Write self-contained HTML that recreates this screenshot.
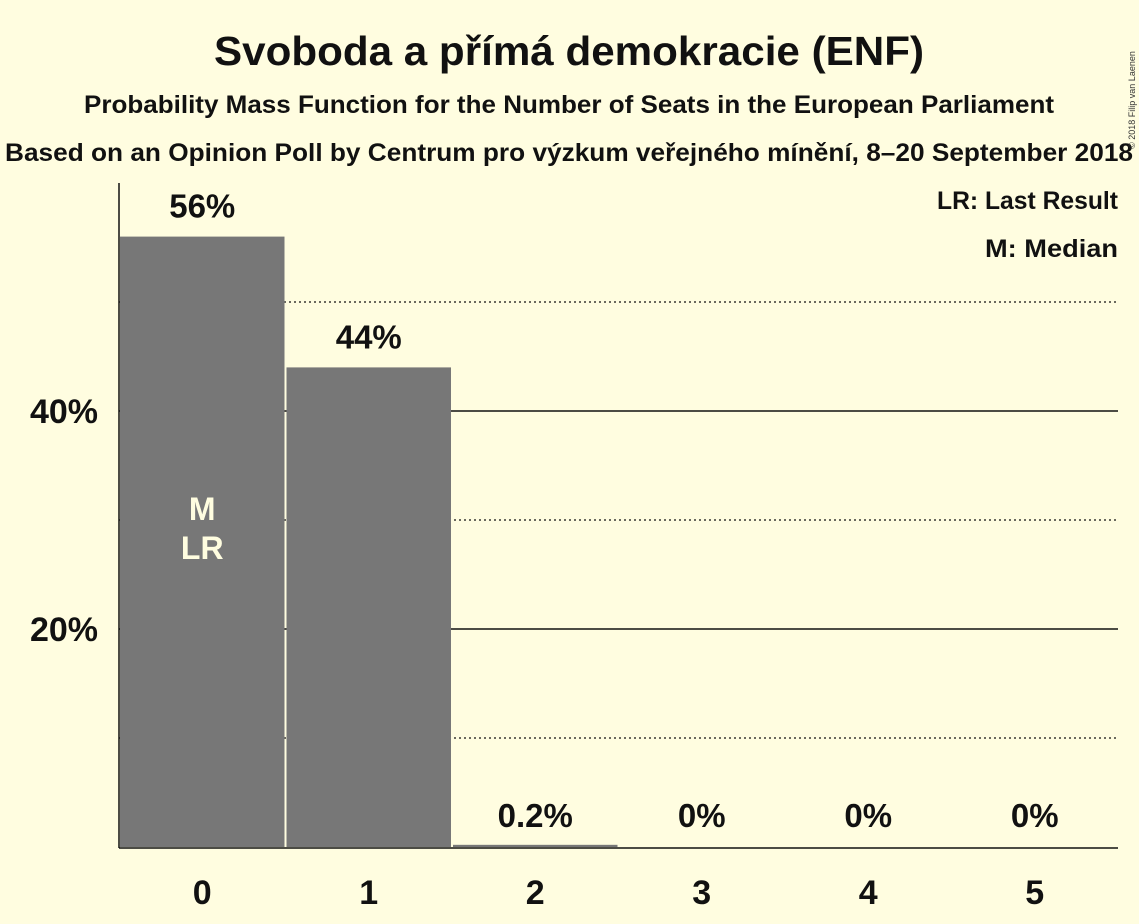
<!DOCTYPE html>
<html><head><meta charset="utf-8"><style>
body{margin:0;background:#fffde0;}
svg{display:block;font-family:"Liberation Sans",sans-serif;font-weight:bold;}
</style></head><body>
<svg id="c" width="1139" height="924">
<rect width="1139" height="924" fill="#fffde0"/>
<text x="569" y="65" text-anchor="middle" font-size="41" textLength="710" lengthAdjust="spacingAndGlyphs" fill="#111">Svoboda a přímá demokracie (ENF)</text>
<text x="569" y="113" text-anchor="middle" font-size="25" textLength="970" lengthAdjust="spacingAndGlyphs" fill="#111">Probability Mass Function for the Number of Seats in the European Parliament</text>
<text x="569" y="161" text-anchor="middle" font-size="25" textLength="1128" lengthAdjust="spacingAndGlyphs" fill="#111">Based on an Opinion Poll by Centrum pro výzkum veřejného mínění, 8–20 September 2018</text>
<text x="1135" y="100" transform="rotate(-90 1135 100)" text-anchor="middle" font-size="9" font-weight="normal" fill="#333">© 2018 Filip van Laenen</text>
<text x="1118" y="209" text-anchor="end" font-size="25" textLength="181" lengthAdjust="spacingAndGlyphs" fill="#111">LR: Last Result</text>
<text x="1118" y="257" text-anchor="end" font-size="25" textLength="133" lengthAdjust="spacingAndGlyphs" fill="#111">M: Median</text>
<g id="grid"></g><g id="bars"></g><g id="labels"></g>
<line x1="119" y1="183" x2="119" y2="848" stroke="#111" stroke-width="1.5"/>
<line x1="119" y1="848" x2="1118" y2="848" stroke="#111" stroke-width="1.5"/>
</svg>
<script>
const categories=[0,1,2,3,4,5];
const values=[56,44,0.2,0,0,0];
const valueLabels=["56%","44%","0.2%","0%","0%","0%"];
const solidTicks=[20,40];
const dottedTicks=[10,30,50];
const tickLabels=["20%","40%"];
const medianIndex=0, lastResultIndex=0;
const ns="http://www.w3.org/2000/svg";
const x0=119,x1=1118,y0=847,perPct=10.9;
const bw=(x1-x0)/categories.length;
const y=v=>y0-v*perPct;
const xc=i=>x0+bw*(i+0.5);
function mk(tag,attrs,parent,text){const e=document.createElementNS(ns,tag);for(const k in attrs)e.setAttribute(k,attrs[k]);if(text!==undefined)e.textContent=text;document.getElementById(parent).appendChild(e);return e;}
dottedTicks.forEach(t=>{const l=mk('line',{x1:x0,x2:x1,y1:y(t),y2:y(t),stroke:'#111','stroke-width':1.3,'stroke-dasharray':'2,3'},'grid');

});
solidTicks.forEach((t,i)=>{const l=mk('line',{x1:x0,x2:x1,y1:y(t),y2:y(t),stroke:'#111','stroke-width':1.5},'grid');


const tx=mk('text',{x:98,y:y(t)+12,'text-anchor':'end','font-size':34,fill:'#111'},'grid',tickLabels[i]);

});
categories.forEach((c,i)=>{
const h=values[i]*perPct;
const r=mk('rect',{x:x0+bw*i+1,y:y0-h,width:bw-2,height:h,fill:'#777'},'bars');


const ly=values[i]>5?y(values[i])-19:y0-20;
const t=mk('text',{x:xc(i),y:ly,'text-anchor':'middle','font-size':33,fill:'#111'},'labels',valueLabels[i]);


const xt=mk('text',{x:xc(i),y:904,'text-anchor':'middle','font-size':34,fill:'#111'},'labels',String(c));


});
const m=mk('text',{x:xc(medianIndex),y:520,'text-anchor':'middle','font-size':32,fill:'#fffde0'},'labels','M');


const lr=mk('text',{x:xc(lastResultIndex),y:559,'text-anchor':'middle','font-size':32,fill:'#fffde0'},'labels','LR');


</script>
</body></html>
